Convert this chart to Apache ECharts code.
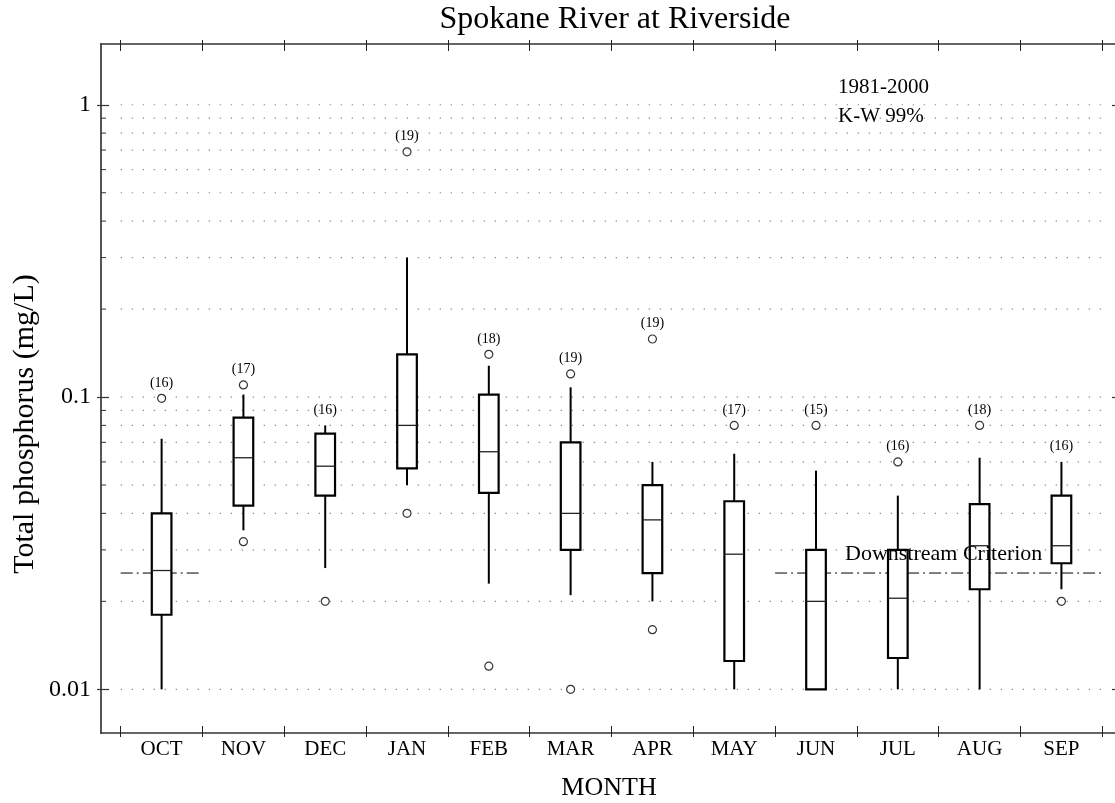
<!DOCTYPE html>
<html>
<head>
<meta charset="utf-8">
<title>Spokane River at Riverside</title>
<script src="https://cdn.jsdelivr.net/npm/echarts@6/dist/echarts.min.js"></script>
<style>
  html, body { margin: 0; padding: 0; background: #fff; }
  #chart { width: 1115px; height: 803px; }
</style>
</head>
<body>
<div id="chart"></div>
<script>
// Monthly total phosphorus, water years 1981-2000 (mg/L)
const MONTHS = ['OCT', 'NOV', 'DEC', 'JAN', 'FEB', 'MAR', 'APR', 'MAY', 'JUN', 'JUL', 'AUG', 'SEP'];
const WHISKER_LOW  = [0.010, 0.035, 0.026, 0.050, 0.023, 0.021, 0.020, 0.010, 0.010, 0.010, 0.010, 0.022];
const Q1           = [0.018, 0.0425, 0.046, 0.057, 0.047, 0.030, 0.025, 0.0125, 0.010, 0.0128, 0.022, 0.027];
const MEDIAN       = [0.0255, 0.062, 0.058, 0.080, 0.065, 0.040, 0.038, 0.029, 0.020, 0.0205, 0.031, 0.031];
const Q3           = [0.040, 0.085, 0.075, 0.140, 0.102, 0.070, 0.050, 0.044, 0.030, 0.030, 0.043, 0.046];
const WHISKER_HIGH = [0.072, 0.102, 0.080, 0.300, 0.128, 0.108, 0.060, 0.064, 0.056, 0.046, 0.062, 0.060];
const SAMPLE_COUNTS = [16, 17, 16, 19, 18, 19, 19, 17, 15, 16, 18, 16];
// outliers as [month index, value]
const OUTLIERS = [
  [0, 0.099],
  [1, 0.110], [1, 0.032],
  [2, 0.020],
  [3, 0.690], [3, 0.040],
  [4, 0.140], [4, 0.012],
  [5, 0.120], [5, 0.010],
  [6, 0.158], [6, 0.016],
  [7, 0.080],
  [8, 0.080],
  [9, 0.060],
  [10, 0.080],
  [11, 0.020]
];
// downstream criterion and the month spans (first, last index) where it applies
const CRITERION = 0.025;
const CRITERION_SPANS = [[0, 0], [8, 11]];
// log axis major ticks and dotted reference lines
const Y_MAJOR = [0.01, 0.1, 1];
const Y_GRID = [0.01, 0.02, 0.03, 0.04, 0.05, 0.06, 0.07, 0.08, 0.09,
                0.1, 0.2, 0.3, 0.4, 0.5, 0.6, 0.7, 0.8, 0.9, 1];

const FONT = '"Liberation Serif", "Times New Roman", serif';
const X_MIN = -0.741, X_MAX = 11.655;
const Y_MIN = 0.00709, Y_MAX = 1.614;

const monthIdx = MONTHS.map((m, i) => i);
const boundaries = MONTHS.map((m, i) => i - 0.5).concat([MONTHS.length - 0.5]);

const boxData = MONTHS.map((m, i) => [i, WHISKER_LOW[i], Q1[i], MEDIAN[i], Q3[i], WHISKER_HIGH[i]]);
const countData = MONTHS.map((m, i) => {
  let top = WHISKER_HIGH[i];
  OUTLIERS.forEach(o => { if (o[0] === i && o[1] > top) top = o[1]; });
  return [i, top, SAMPLE_COUNTS[i]];
});
const gridData = Y_GRID.map(v => [-0.5, v]);
const criterionData = CRITERION_SPANS.map(s => [s[0] - 0.5, CRITERION, s[1] + 0.5]);

function renderGrid(params, api) {
  const v = api.value(1);
  const a = api.coord([-0.5, v]);
  const b = api.coord([MONTHS.length - 0.5, v]);
  const axisX = api.coord([X_MIN, v])[0];
  const children = [{
    type: 'line',
    shape: { x1: a[0], y1: a[1], x2: b[0], y2: b[1] },
    style: { stroke: '#808080', lineWidth: 1.2, lineDash: [1.2, 9.8] }
  }];
  if (Y_MAJOR.indexOf(v) < 0) {
    children.push({
      type: 'line',
      shape: { x1: axisX, y1: a[1], x2: axisX + 5, y2: a[1] },
      style: { stroke: '#333', lineWidth: 1 }
    });
  }
  return { type: 'group', children: children };
}

function renderBox(params, api) {
  const x = api.value(0);
  const pLo = api.coord([x, api.value(1)]);
  const pQ1 = api.coord([x, api.value(2)]);
  const pMd = api.coord([x, api.value(3)]);
  const pQ3 = api.coord([x, api.value(4)]);
  const pHi = api.coord([x, api.value(5)]);
  const band = api.coord([x + 1, api.value(3)])[0] - pMd[0];
  const half = band * 0.12;
  const cx = pMd[0];
  return {
    type: 'group',
    children: [
      { type: 'line', shape: { x1: cx, y1: pHi[1], x2: cx, y2: pQ3[1] }, style: { stroke: '#000', lineWidth: 2 } },
      { type: 'line', shape: { x1: cx, y1: pQ1[1], x2: cx, y2: pLo[1] }, style: { stroke: '#000', lineWidth: 2 } },
      { type: 'rect', shape: { x: cx - half, y: pQ3[1], width: half * 2, height: pQ1[1] - pQ3[1] },
        style: { fill: '#fff', stroke: '#000', lineWidth: 2.2 } },
      { type: 'line', shape: { x1: cx - half, y1: pMd[1], x2: cx + half, y2: pMd[1] }, style: { stroke: '#222', lineWidth: 1.3 } }
    ]
  };
}

function renderCount(params, api) {
  const p = api.coord([api.value(0), api.value(1)]);
  return {
    type: 'text',
    x: p[0], y: p[1] - 15.5,
    style: { text: '(' + api.value(2) + ')', textAlign: 'center', textVerticalAlign: 'middle',
             font: '14px ' + FONT, fill: '#000' }
  };
}

function renderCriterion(params, api) {
  const a = api.coord([api.value(0), api.value(1)]);
  const b = api.coord([api.value(2), api.value(1)]);
  return {
    type: 'line',
    shape: { x1: a[0], y1: a[1], x2: b[0], y2: b[1] },
    style: { stroke: '#000', lineWidth: 1, lineDash: [12, 4, 2, 4] }
  };
}

function xAxisDef(position, inside, len, withLine, withLabels) {
  return {
    type: 'value', position: position, min: X_MIN, max: X_MAX,
    axisLine: { show: withLine, onZero: false, lineStyle: { color: '#333', width: 1.5 } },
    axisTick: { show: true, inside: inside, length: len, customValues: boundaries,
                lineStyle: { color: '#222', width: 1 } },
    axisLabel: withLabels ? {
      show: true, customValues: monthIdx, margin: 6,
      formatter: v => MONTHS[Math.round(v)],
      fontFamily: FONT, fontSize: 21, color: '#000'
    } : { show: false },
    splitLine: { show: false }
  };
}

function yAxisDef(position, inside, len, withLine, withLabels) {
  return {
    type: 'log', logBase: 10, position: position, min: Y_MIN, max: Y_MAX,
    axisLine: { show: withLine, onZero: false, lineStyle: { color: '#555', width: 2 } },
    axisTick: { show: true, inside: inside, length: len, customValues: Y_MAJOR,
                lineStyle: { color: '#333', width: 1.2 } },
    axisLabel: withLabels ? {
      show: true, customValues: Y_MAJOR, margin: 10,
      formatter: v => String(Math.pow(10, Math.round(Math.log10(v)))),
      fontFamily: FONT, fontSize: 24, color: '#000'
    } : { show: false },
    splitLine: { show: false },
    minorTick: { show: false },
    minorSplitLine: { show: false }
  };
}

const chart = echarts.init(document.getElementById('chart'), null, { renderer: 'canvas' });
chart.setOption({
  backgroundColor: '#fff',
  animation: false,
  grid: { left: 101, right: 0, top: 44, bottom: 70, containLabel: false },
  xAxis: [
    xAxisDef('bottom', true, 7, true, true),
    xAxisDef('bottom', false, 4, false, false),
    xAxisDef('top', true, 7, true, false),
    xAxisDef('top', false, 4, false, false)
  ],
  yAxis: [
    yAxisDef('left', true, 8, true, true),
    yAxisDef('left', false, 4, false, false),
    yAxisDef('right', true, 3, false, false)
  ],
  graphic: [
    { type: 'text', x: 615, y: 20, z: 100,
      style: { text: 'Spokane River at Riverside', font: '32px ' + FONT, fill: '#000',
               textAlign: 'center', textVerticalAlign: 'middle' } },
    { type: 'text', x: 25, y: 424, rotation: Math.PI / 2, z: 100,
      style: { text: 'Total phosphorus (mg/L)', font: '30px ' + FONT, fill: '#000',
               textAlign: 'center', textVerticalAlign: 'middle' } },
    { type: 'text', x: 609, y: 788, z: 100,
      style: { text: 'MONTH', font: '26px ' + FONT, fill: '#000',
               textAlign: 'center', textVerticalAlign: 'middle' } },
    { type: 'text', x: 838, y: 87, z: 100,
      style: { text: '1981-2000', font: '21px ' + FONT, fill: '#000',
               textAlign: 'left', textVerticalAlign: 'middle' } },
    { type: 'text', x: 838, y: 116, z: 100,
      style: { text: 'K-W 99%', font: '21px ' + FONT, fill: '#000',
               textAlign: 'left', textVerticalAlign: 'middle' } },
    { type: 'text', x: 845, y: 554, z: 100,
      style: { text: 'Downstream Criterion', font: '22px ' + FONT, fill: '#000',
               textAlign: 'left', textVerticalAlign: 'middle' } }
  ],
  series: [
    { name: 'grid', type: 'custom', data: gridData, renderItem: renderGrid,
      encode: { x: 0, y: 1 }, silent: true, z: 1 },
    { name: 'criterion', type: 'custom', data: criterionData, renderItem: renderCriterion,
      encode: { x: [0, 2], y: 1 }, silent: true, z: 2 },
    { name: 'boxes', type: 'custom', data: boxData, renderItem: renderBox,
      encode: { x: 0, y: [1, 2, 3, 4, 5] }, z: 3 },
    { name: 'outliers', type: 'scatter', data: OUTLIERS, symbol: 'circle', symbolSize: 8,
      itemStyle: { color: '#fff', borderColor: '#000', borderWidth: 1.2 }, z: 4 },
    { name: 'counts', type: 'custom', data: countData, renderItem: renderCount,
      encode: { x: 0, y: 1 }, silent: true, z: 5 }
  ]
});
</script>
</body>
</html>
